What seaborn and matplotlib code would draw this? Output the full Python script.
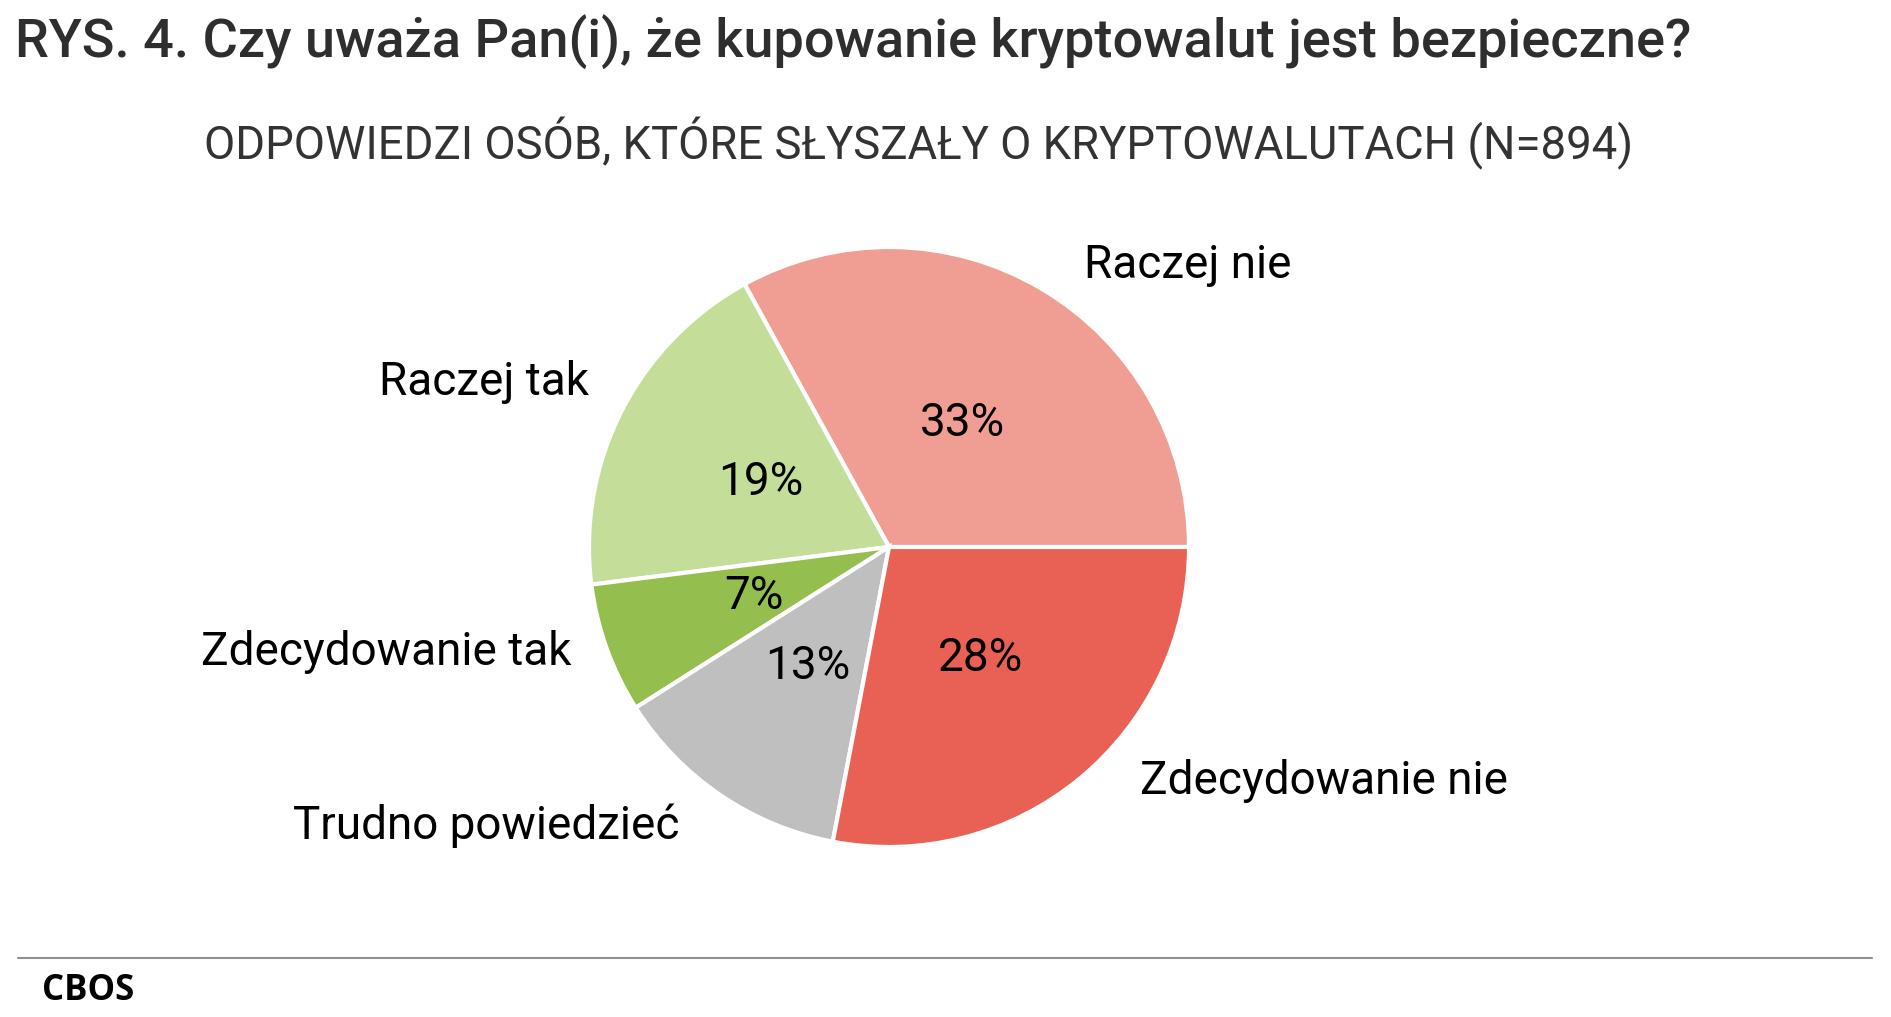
import matplotlib
matplotlib.use('Agg')
import matplotlib.pyplot as plt
import seaborn as sns

# dane z wykresu (kolejność przeciwnie do ruchu wskazówek zegara od godz. 3)
categories = ['Raczej nie', 'Raczej tak', 'Zdecydowanie tak', 'Trudno powiedzieć', 'Zdecydowanie nie']
values = [33, 19, 7, 13, 28]
colors = ['#f09e94', '#c4de99', '#94bf4e', '#bfbfbf', '#e86154']

# pozycje etykiet (w jednostkach promienia) i wyrównanie
label_pos = [(0.65, 0.94), (-1.0, 0.55), (-1.06, -0.35), (-0.70, -0.93), (0.835, -0.78)]
label_ha = ['left', 'right', 'right', 'right', 'left']

sns.set_theme(style='white')
plt.rcParams['font.family'] = ['Roboto', 'DejaVu Sans']

W, H = 1891, 1017
fig = plt.figure(figsize=(W / 100, H / 100), dpi=100)
fig.patch.set_facecolor('white')

cx, cy, r = 889, 547, 300
ax = fig.add_axes([(cx - r) / W, (H - cy - r) / H, 2 * r / W, 2 * r / H])

wedges, texts, autotexts = ax.pie(
    values, labels=categories, colors=colors, startangle=0, counterclock=True,
    autopct='%d%%', pctdistance=0.48, labeldistance=1.15,
    wedgeprops=dict(edgecolor='white', linewidth=3),
    textprops=dict(fontsize=33, color='black'))
ax.set_xlim(-1, 1)
ax.set_ylim(-1, 1)
ax.set_aspect('equal')
ax.axis('off')

for t, pos, ha in zip(texts, label_pos, label_ha):
    t.set_position(pos)
    t.set_ha(ha)
    t.set_va('center')
for t in autotexts:
    t.set_fontsize(33)

fig.text(15 / W, 1 - 42 / H, 'RYS. 4. Czy uważa Pan(i), że kupowanie kryptowalut jest bezpieczne?',
         fontsize=39, fontweight='medium', color='#2e2e2e', ha='left', va='center')
fig.text(919 / W, 1 - 143 / H, 'ODPOWIEDZI OSÓB, KTÓRE SŁYSZAŁY O KRYPTOWALUTACH (N=894)',
         fontsize=32.8, color='#333333', ha='center', va='center')

fig.add_artist(plt.Line2D([18 / W, 1872 / W], [1 - 958 / H, 1 - 958 / H], color='#909090', linewidth=1.5))
fig.text(42 / W, 1 - 991 / H, 'CBOS', fontsize=25, fontweight='bold', color='black',
         ha='left', va='center', family=['Open Sans', 'DejaVu Sans'])

fig.savefig('out.png', dpi=100, facecolor='white')
